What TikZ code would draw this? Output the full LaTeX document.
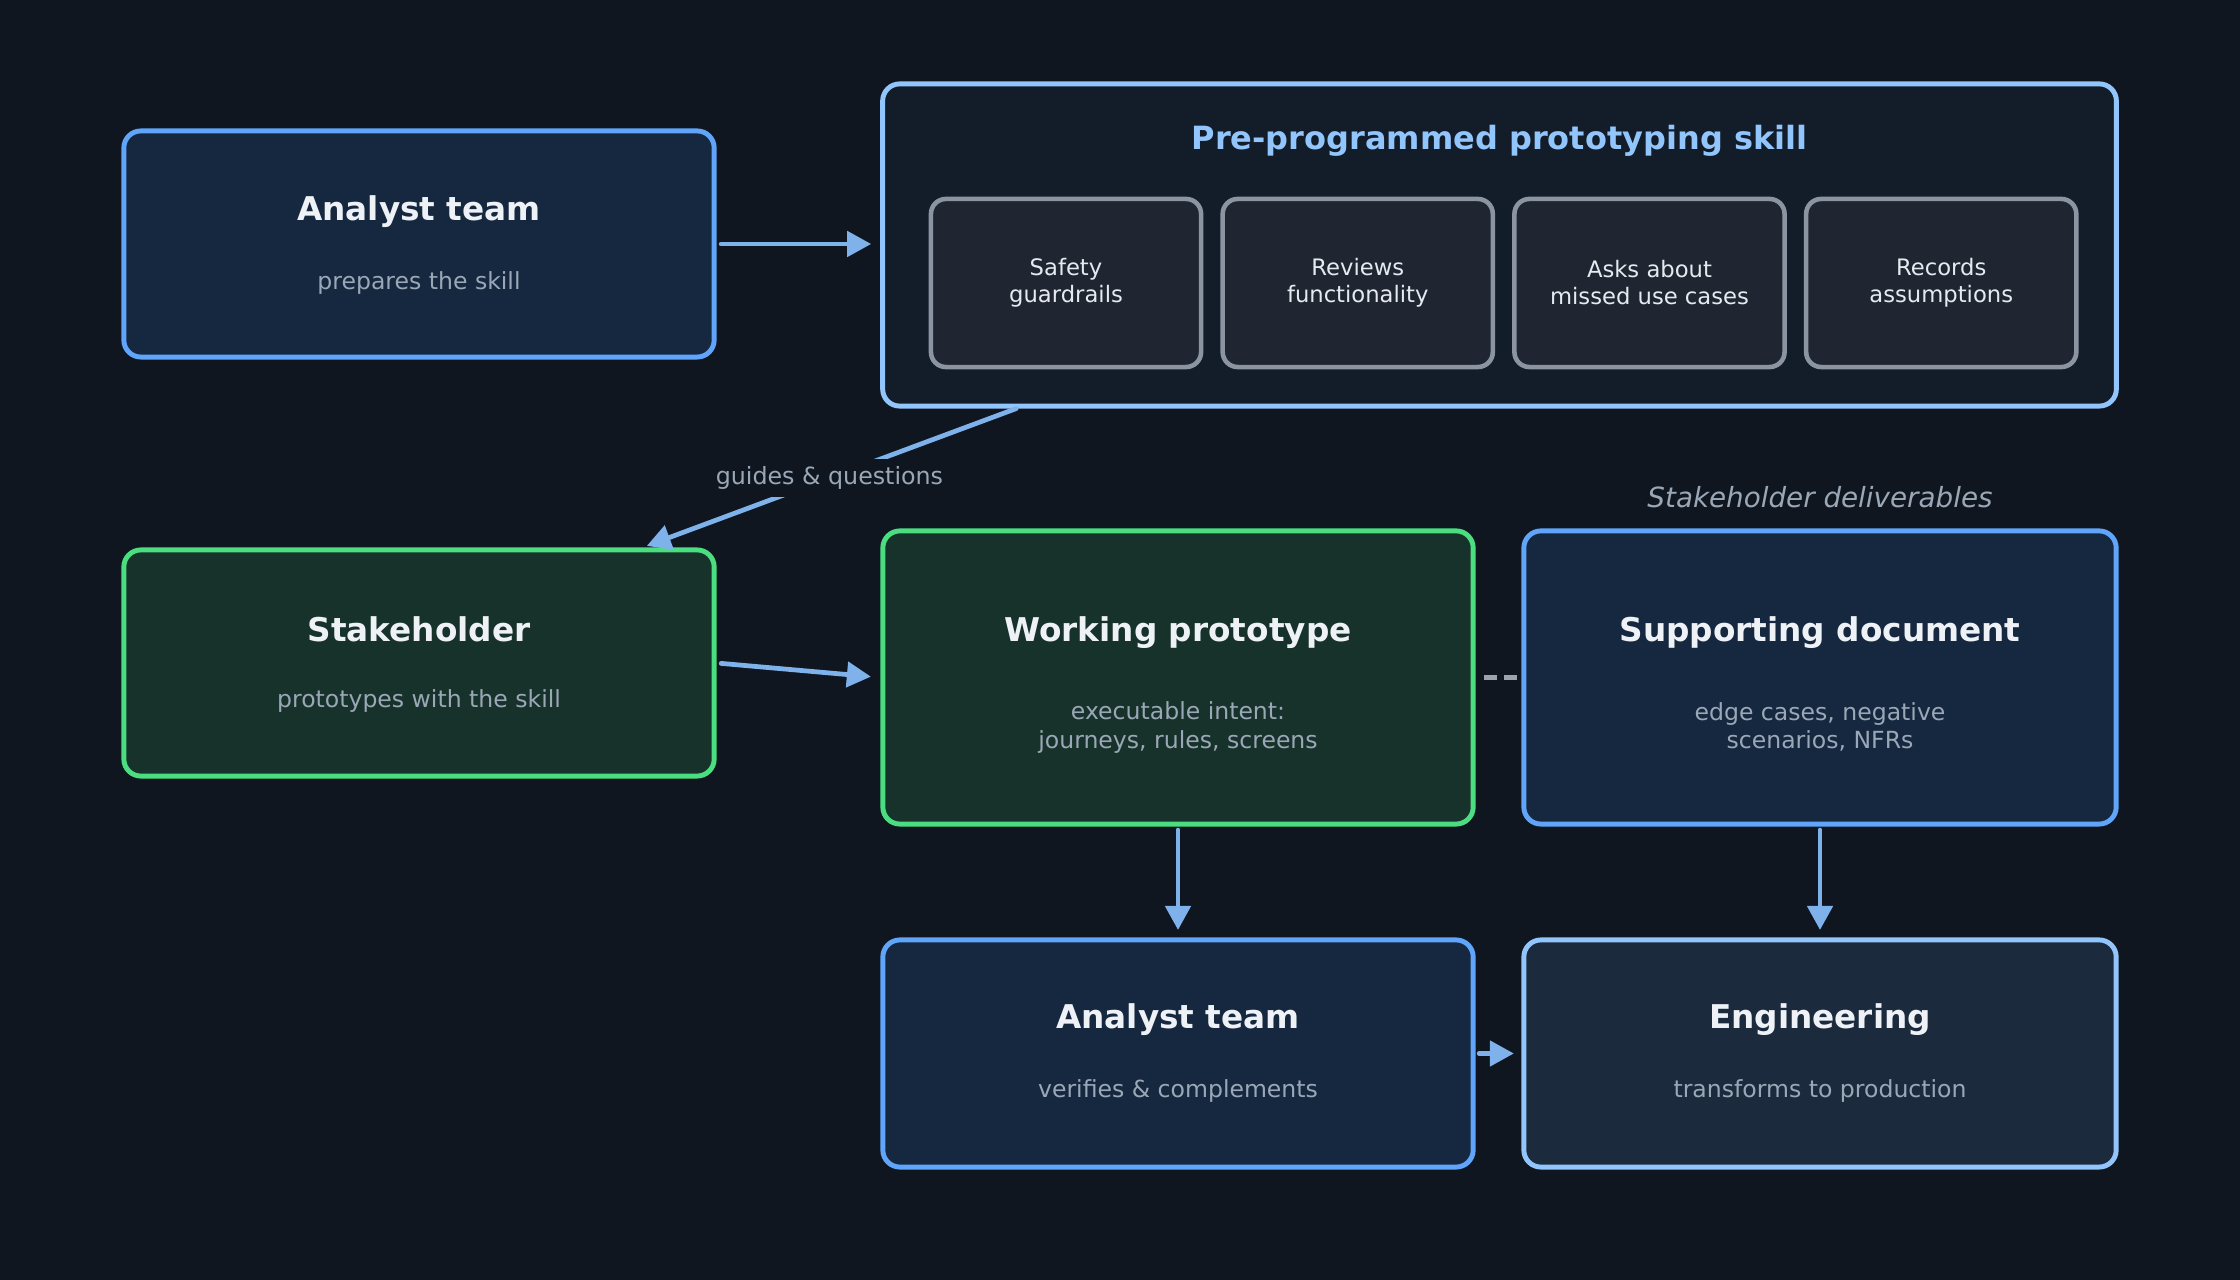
\documentclass[tikz,border=0pt]{standalone}
\usepackage{fontspec}
\setmainfont{DejaVu Sans}
\usetikzlibrary{arrows.meta, positioning}

\definecolor{bgc}{HTML}{0F1620}
\definecolor{bluebd}{HTML}{60A5FA}
\definecolor{bluefill}{HTML}{15283F}
\definecolor{lightbd}{HTML}{93C5FD}
\definecolor{skillfill}{HTML}{131D29}
\definecolor{engfill}{HTML}{1B2A3D}
\definecolor{greybd}{HTML}{8B95A1}
\definecolor{greyfill}{HTML}{1F2632}
\definecolor{greenbd}{HTML}{4ADE80}
\definecolor{greenfill}{HTML}{17322A}
\definecolor{arrowc}{HTML}{7FB1EA}
\definecolor{titletxt}{HTML}{EEF2F7}
\definecolor{subtxt}{HTML}{9AA7B6}
\definecolor{chiptxt}{HTML}{E6EAF0}
\definecolor{dashc}{HTML}{9CA3AF}

\begin{document}
\begin{tikzpicture}[x=0.01cm, y=-0.01cm,
		box/.style={draw, rounded corners=0.17cm, line width=1.4pt, inner sep=0pt,
			minimum width=5.9cm, minimum height=2.26cm},
		bluebox/.style={box, draw=bluebd, fill=bluefill},
		greenbox/.style={box, draw=greenbd, fill=greenfill},
		engbox/.style={box, draw=lightbd, fill=engfill},
		skillbox/.style={box, draw=lightbd, fill=skillfill,
			minimum width=12.33cm, minimum height=3.22cm},
		chip/.style={draw=greybd, fill=greyfill, rounded corners=0.15cm, line width=1.3pt,
			minimum width=2.7cm, minimum height=1.68cm, inner sep=0pt, align=center,
			text=chiptxt, font=\fontsize{6.45}{7.7}\selectfont},
		ttl/.style={text=titletxt, font=\bfseries\fontsize{9.3}{11}\selectfont},
		sub/.style={text=subtxt, align=center, font=\fontsize{6.7}{8}\selectfont},
		lbl/.style={text=subtxt, fill=bgc, inner xsep=0.02cm, inner ysep=0.08cm,
			font=\fontsize{6.75}{8}\selectfont},
		flow/.style={draw=arrowc, line width=1.35pt, line cap=round, line join=round,
			-{Triangle[length=0.24cm, width=0.25cm]}},
		dashlink/.style={draw=dashc, line width=1.3pt, dash pattern=on 0.13cm off 0.07cm}]
	
	\useasboundingbox[fill=bgc] (0,0) rectangle (2240,1280);
	
	% top row
	\node[bluebox] (an1) at (419,244) {};
	\node[ttl] (an1t) at ([yshift=0.32cm]an1.center) {Analyst team};
	\node[sub] (an1s) at ([yshift=-0.39cm]an1.center) {prepares the skill};
	
	\node[skillbox] (skill) at (1499.5,245) {};
	\node[ttl, text=lightbd, font=\bfseries\fontsize{9.1}{11}\selectfont] (skillt)
	at ([yshift=-0.59cm]skill.north) {Pre-programmed prototyping skill};
	
	\node[chip] (sk1) at (1066,283) {Safety\\guardrails};
	\node[chip, right=0.17cm of sk1] (sk2) {Reviews\\functionality};
	\node[chip, right=0.17cm of sk2] (sk3) {Asks about\\missed use cases};
	\node[chip, right=0.17cm of sk3] (sk4) {Records\\assumptions};
	
	% middle row
	\node[greenbox] (stake) at (419,663) {};
	\node[ttl] (staket) at ([yshift=0.34cm]stake.center) {Stakeholder};
	\node[sub] (stakes) at ([yshift=-0.38cm]stake.center) {prototypes with the skill};
	
	\node[greenbox, minimum height=2.93cm] (wp) at (1178,677.5) {};
	\node[ttl] (wpt) at ([yshift=0.45cm]wp.center) {Working prototype};
	\node[sub] (wps) at ([yshift=-0.5cm]wp.center) {executable intent:\\journeys, rules, screens};
	
	\node[bluebox, minimum width=5.92cm, minimum height=2.93cm] (sd) at (1820,677.5) {};
	\node[ttl] (sdt) at ([yshift=0.45cm]sd.center) {Supporting document};
	\node[sub] (sds) at ([yshift=-0.49cm]sd.center) {edge cases, negative\\scenarios, NFRs};
	\node[text=subtxt, font=\itshape\fontsize{7.9}{9}\selectfont] (deliv)
	at ([yshift=0.31cm]sd.north) {Stakeholder deliverables};
	
	% bottom row
	\node[bluebox, minimum height=2.27cm] (an2) at (1178,1053.5) {};
	\node[ttl] (an2t) at ([yshift=0.34cm]an2.center) {Analyst team};
	\node[sub] (an2s) at ([yshift=-0.37cm]an2.center) {verifies \& complements};
	
	\node[engbox, minimum width=5.92cm, minimum height=2.27cm] (eng) at (1820,1053.5) {};
	\node[ttl] (engt) at ([yshift=0.34cm]eng.center) {Engineering};
	\node[sub] (engs) at ([yshift=-0.37cm]eng.center) {transforms to production};
	
	% connectors
	\draw[flow, shorten <=0.045cm, shorten >=0.09cm] (an1.east) -- (an1.east -| skill.west);
	\draw[flow, shorten >=0.045cm] ([xshift=1.36cm]skill.south west)
	-- node[lbl] (guide) {guides \& questions} ([xshift=-0.74cm]stake.north east);
	\draw[flow, shorten <=0.045cm, shorten >=0.095cm] (stake.east) -- (wp.west);
	\draw[dashlink, shorten <=0.085cm, shorten >=0.045cm] (wp.east) -- (sd.west);
	\draw[flow, shorten <=0.035cm, shorten >=0.075cm] (wp.south) -- (an2.north);
	\draw[flow, shorten <=0.035cm, shorten >=0.075cm] (sd.south) -- (eng.north);
	\draw[flow, shorten <=0.035cm, shorten >=0.075cm] (an2.east) -- (eng.west);
	
\end{tikzpicture}
\end{document}
